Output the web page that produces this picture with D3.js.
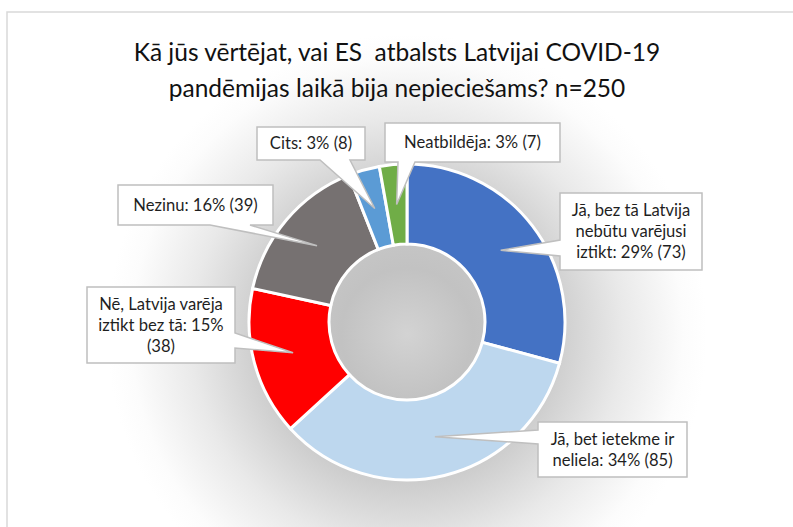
<!DOCTYPE html>
<html>
<head>
<meta charset="utf-8">
<script src="https://cdn.jsdelivr.net/npm/d3@7"></script>
<style>
  html, body { margin: 0; padding: 0; background: #fff; }
  svg { display: block; font-family: Lato, "Open Sans", sans-serif; }
</style>
</head>
<body>
<svg width="793" height="527"></svg>
<script>
const width = 793, height = 527;

// answers in drawing order, clockwise from 12 o'clock
const categories = [
  "Jā, bez tā Latvija nebūtu varējusi iztikt",
  "Jā, bet ietekme ir neliela",
  "Nē, Latvija varēja iztikt bez tā",
  "Nezinu",
  "Cits",
  "Neatbildēja"
];
const counts = [73, 85, 38, 39, 8, 7];
const percents = [29, 34, 15, 16, 3, 3];
const labelLines = [
  ["Jā, bez tā Latvija", "nebūtu varējusi", "iztikt: 29% (73)"],
  ["Jā, bet ietekme ir", "neliela: 34% (85)"],
  ["Nē, Latvija varēja", "iztikt bez tā: 15%", "(38)"],
  ["Nezinu: 16% (39)"],
  ["Cits: 3% (8)"],
  ["Neatbildēja: 3% (7)"]
];
const colors = ["#4472C4", "#BDD7EE", "#FF0000", "#767171", "#5B9BD5", "#70AD47"];
const titleLines = ["Kā jūs vērtējat, vai ES  atbalsts Latvijai COVID-19", "pandēmijas laikā bija nepieciešams? n=250"];

// callout boxes: x, y, w, h, side the pointer leaves from, pointer base along that side
const callouts = [
  { x: 560, y: 193, w: 142, h: 77, side: "left", base: [240, 256] },
  { x: 538, y: 422, w: 149, h: 55, side: "left", base: [430, 444] },
  { x: 87, y: 287, w: 148, h: 76, side: "right", base: [333, 348] },
  { x: 118, y: 185, w: 155, h: 40, side: "bottom", base: [210, 250] },
  { x: 257, y: 127, w: 108, h: 33, side: "bottom", base: [320, 350] },
  { x: 385, y: 123, w: 175, h: 39, side: "bottom", base: [398, 415] }
];

const cx = 407, cy = 322, outerR = 158, innerR = 78;

const svg = d3.select("svg");
const defs = svg.append("defs");

// soft grey glow behind the ring
const grad = defs.append("radialGradient").attr("id", "bg")
  .attr("gradientUnits", "userSpaceOnUse")
  .attr("cx", cx).attr("cy", cy + 12).attr("r", 300);
[[0, "#d3d3d3"], [0.22, "#c2c2c2"], [0.5, "#cdcdcd"], [0.72, "#e9e9e9"], [0.92, "#fcfcfc"], [1, "#ffffff"]]
  .forEach(s => grad.append("stop").attr("offset", s[0]).attr("stop-color", s[1]));

svg.append("rect").attr("width", width).attr("height", height).attr("fill", "#fff");
svg.append("rect").attr("x", 7).attr("y", 12).attr("width", width).attr("height", height)
  .attr("fill", "url(#bg)").attr("stroke", "#d9d9d9").attr("stroke-width", 1.5);

// title
svg.append("g").selectAll("text").data(titleLines).enter().append("text")
  .attr("x", 397).attr("y", (d, i) => 61 + i * 36)
  .attr("text-anchor", "middle")
  .attr("font-size", "24.5px")
  .attr("fill", "#111")
  .style("white-space", "pre")
  .text(d => d);

const pie = d3.pie().sort(null).value(d => d)(counts);
const arc = d3.arc().innerRadius(innerR).outerRadius(outerR);
const midArc = d3.arc().innerRadius((innerR + outerR) / 2).outerRadius((innerR + outerR) / 2);

const g = svg.append("g").attr("transform", `translate(${cx},${cy})`);
g.selectAll("path.slice").data(pie).enter().append("path")
  .attr("class", "slice")
  .attr("d", arc)
  .attr("fill", (d, i) => colors[i])
  .attr("stroke", "#fff")
  .attr("stroke-width", 3);

// callout shape: box outline with the pointer folded into one side
function calloutPath(b, tip) {
  const [b0, b1] = b.base;
  const p = [[b.x, b.y]];
  if (b.side === "top") p.push([b0, b.y], tip, [b1, b.y]);
  p.push([b.x + b.w, b.y]);
  if (b.side === "right") p.push([b.x + b.w, b0], tip, [b.x + b.w, b1]);
  p.push([b.x + b.w, b.y + b.h]);
  if (b.side === "bottom") p.push([b1, b.y + b.h], tip, [b0, b.y + b.h]);
  p.push([b.x, b.y + b.h]);
  if (b.side === "left") p.push([b.x, b1], tip, [b.x, b0]);
  return "M" + p.map(q => q.join(",")).join("L") + "Z";
}

const labels = svg.append("g");
pie.forEach((d, i) => {
  const c = midArc.centroid(d);
  const tip = [cx + c[0], cy + c[1]];
  const b = callouts[i];
  labels.append("path")
    .attr("d", calloutPath(b, tip))
    .attr("fill", "#fff")
    .attr("stroke", "#bfbfbf")
    .attr("stroke-width", 1.5)
    .attr("stroke-linejoin", "miter");

  const lines = labelLines[i];
  const lh = 21, fs = 16.6;
  labels.append("g").selectAll("text").data(lines).enter().append("text")
    .attr("x", b.x + b.w / 2)
    .attr("y", (t, k) => b.y + b.h / 2 + (k - (lines.length - 1) / 2) * lh + fs * 0.36)
    .attr("text-anchor", "middle")
    .attr("font-size", fs + "px")
    .attr("fill", "#1f1f1f")
    .text(t => t);
});
</script>
</body>
</html>
